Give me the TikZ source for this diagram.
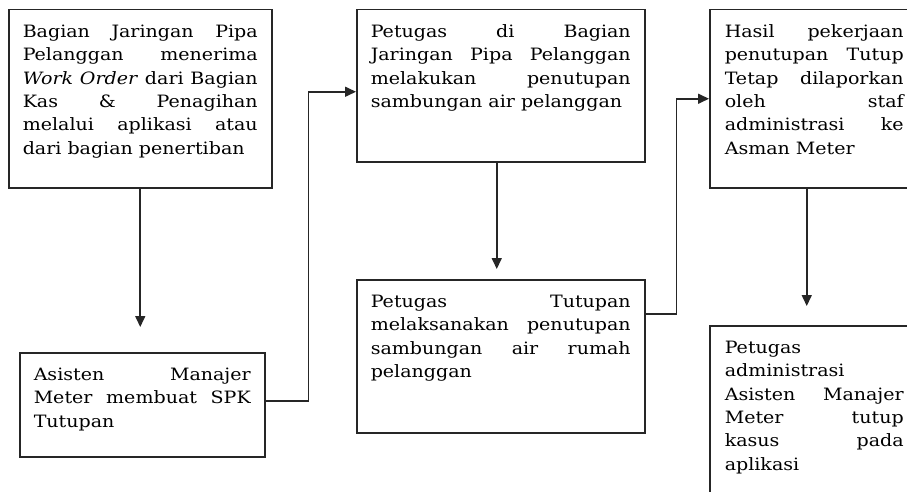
\documentclass[tikz,border=0pt]{standalone}
\usepackage{fontspec}
\setmainfont{DejaVu Serif}[FakeStretch=1.12]
\usetikzlibrary{arrows.meta}
\newcommand{\jl}[1]{\makebox[\linewidth][s]{#1}}
\newcommand{\fl}{\rule{0pt}{16pt}}
\newcommand{\bx}[3]{\parbox[t][#2pt][t]{#1pt}{\vspace*{11.5pt}\fl #3}}
\tikzset{
  box/.style={draw=black!85, line width=1.5pt, anchor=north west, inner xsep=14pt, inner ysep=0pt,
    font=\fontsize{17}{23.4}\selectfont},
  conn/.style={draw=black!85, line width=1.6pt, -{Triangle[length=11pt,width=10pt]}},
}
\begin{document}
\begin{tikzpicture}[x=1pt,y=-1pt]
\fill[white] (0,0) rectangle (907,492);
\useasboundingbox (0,0) rectangle (907,492);
\begin{scope}
\clip (0,0) rectangle (907,492);
\node[box] (b1) at (8,9) {\bx{235}{178}{\jl{Bagian Jaringan Pipa}\\
\jl{Pelanggan menerima}\\
\jl{\textit{Work Order} dari Bagian}\\
\jl{Kas \& Penagihan}\\
\jl{melalui aplikasi atau}\\
dari bagian penertiban}};
\node[box] (b2) at (19,352) {\bx{217}{104}{\jl{Asisten Manajer}\\
\jl{Meter membuat SPK}\\
Tutupan}};
\node[box] (b3) at (356,9) {\bx{260}{152}{\jl{Petugas di Bagian}\\
\jl{Jaringan Pipa Pelanggan}\\
\jl{melakukan penutupan}\\
sambungan air pelanggan}};
\node[box] (b4) at (356,279) {\bx{260}{153}{\jl{Petugas Tutupan}\\
\jl{melaksanakan penutupan}\\
\jl{sambungan air rumah}\\
pelanggan}};
\node[box, inner xsep=15pt] (b5) at (709,9) {\bx{179}{178}{\jl{Hasil pekerjaan}\\
\jl{penutupan Tutup}\\
\jl{Tetap dilaporkan}\\
\jl{oleh staf}\\
\jl{administrasi ke}\\
Asman Meter}};
\node[box, inner xsep=15pt] (b6) at (709,325) {\bx{179}{200}{Petugas\\
administrasi\\
\jl{Asisten Manajer}\\
\jl{Meter tutup}\\
\jl{kasus pada}\\
aplikasi}};
\draw[conn, shorten >=25pt] (b1.south) -- (b1.south |- b2.north);
\draw[conn] ([yshift=4pt]b2.east) -- ++(43,0) |- ([yshift=-6pt]b3.west);
\draw[conn, shorten >=10pt] ([xshift=-4pt]b3.south) -- ([xshift=-4pt]b4.north);
\draw[conn] ([yshift=42.5pt]b4.east) -- ++(31,0) |- (b5.west);
\draw[conn, shorten >=19pt] ([xshift=-7.5pt]b5.south) -- ([xshift=-7.5pt]b6.north);
\end{scope}
\end{tikzpicture}
\end{document}
